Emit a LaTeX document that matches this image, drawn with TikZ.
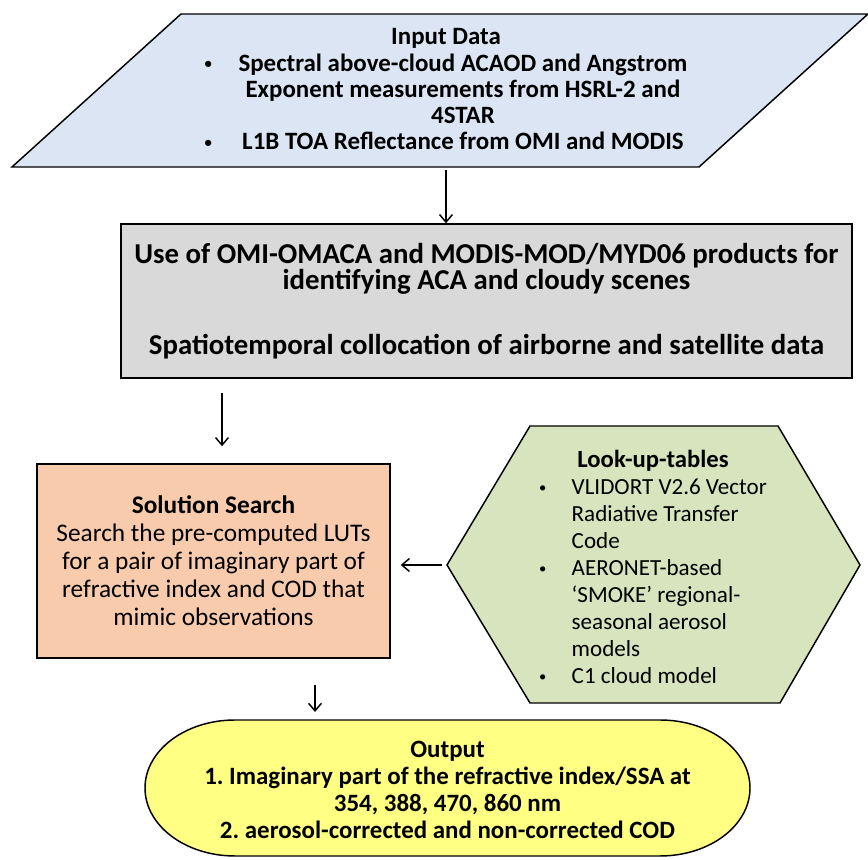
\documentclass[tikz,border=0pt]{standalone}
\usepackage{fontspec}
\setmainfont{Carlito}
\usetikzlibrary{arrows.meta,positioning}
\definecolor{inblue}{RGB}{220,229,244}
\definecolor{boxgray}{RGB}{217,217,217}
\definecolor{peach}{RGB}{248,203,173}
\definecolor{lutgreen}{RGB}{215,228,189}
\definecolor{outyellow}{RGB}{255,255,132}
\newcommand{\blt}{\raisebox{1.6pt}{\fontsize{11}{11}\selectfont\textbullet}}
\frenchspacing
\tikzset{
  shp/.style={draw=black,line width=1.1pt},
  blk/.style={rectangle,shp,align=center,inner sep=0pt},
  txt/.style={align=center,inner sep=0pt},
  flowarrow/.style={-{Straight Barb[length=2mm,width=3.4mm]},line width=1.1pt}
}

\begin{document}
\begin{tikzpicture}[x=0.75pt,y=0.75pt]
  \useasboundingbox (0,0) rectangle (868,860);

  % Input data
  \draw[shp,fill=inblue] (12,693) -- (699,693) -- (868,846) -- (181,846) -- cycle;
  \node[txt, font=\fontsize{18.7}{19.6}\selectfont\bfseries] (input) at (446,767) {Input Data\\
    \begin{tabular}[t]{@{}l@{\hspace{20pt}}c@{}}
      \blt & Spectral above-cloud ACAOD and Angstrom\\
           & Exponent measurements from HSRL-2 and\\
           & 4STAR\\
      \blt & L1B TOA Reflectance from OMI and MODIS
    \end{tabular}};
  \coordinate (inbot) at (446,693);

  \node[blk, fill=boxgray, minimum width=548.25pt, minimum height=115.5pt,
        font=\fontsize{21.6}{20.5}\selectfont\bfseries] (gray) at (486.5,559)
    {\raisebox{-2.5pt}{Use of OMI-OMACA and MODIS-MOD/MYD06 products for}\\
     identifying ACA and cloudy scenes\\[28pt]
     Spatiotemporal collocation of airborne and satellite data};

  \node[blk, fill=peach, minimum width=264.75pt, minimum height=145.5pt,
        font=\fontsize{19}{21}\selectfont] (sol) at (213.5,299)
    {\textbf{Solution Search}\\
     Search the pre-computed LUTs\\
     for a pair of imaginary part of\\
     refractive index and COD that\\
     mimic observations};

  % Look-up-tables
  \draw[shp,fill=lutgreen] (447,295) -- (530,434) -- (778,434) -- (860,295)
    -- (780,157) -- (530,157) -- cycle;
  \coordinate (lutleft) at (447,295);
  \node[txt, font=\fontsize{17.3}{20.25}\selectfont] (luts) at (653,290)
    {\begin{tabular}{@{}l@{\hspace{19pt}}l@{}}
      \multicolumn{2}{c}{\fontsize{18.5}{20.25}\selectfont\textbf{Look-up-tables}}\\
      \blt & VLIDORT V2.6 Vector\\
           & Radiative Transfer\\
           & Code\\
      \blt & AERONET-based\\
           & `SMOKE' regional-\\
           & seasonal aerosol\\
           & models\\
      \blt & C1 cloud model
    \end{tabular}};

  % Output
  \draw[shp,fill=outyellow] (660,140) arc[start angle=90,end angle=-90,x radius=90,y radius=68]
    -- (235,4) arc[start angle=270,end angle=90,x radius=90,y radius=68] -- cycle;
  \coordinate (outtop) at (447.5,140);
  \node[txt, font=\fontsize{18.7}{20.25}\selectfont\bfseries] (output) at (447.5,70)
    {Output\\
     1. Imaginary part of the refractive index/SSA at\\
     354, 388, 470, 860 nm\\
     2. aerosol-corrected and non-corrected COD};

  \coordinate (colA) at (222,0);
  \coordinate (colB) at (315,0);
  \draw[flowarrow, shorten <=2pt] (inbot) -- (inbot |- gray.north);
  \draw[flowarrow, shorten <=11pt, shorten >=12.75pt] (gray.south -| colA) -- (sol.north -| colA);
  \draw[flowarrow, shorten <=3.75pt, shorten >=7.5pt] (lutleft) -- (lutleft -| sol.east);
  \draw[flowarrow, shorten <=20pt, shorten >=6pt] (sol.south -| colB) -- (colB |- outtop);
\end{tikzpicture}
\end{document}
